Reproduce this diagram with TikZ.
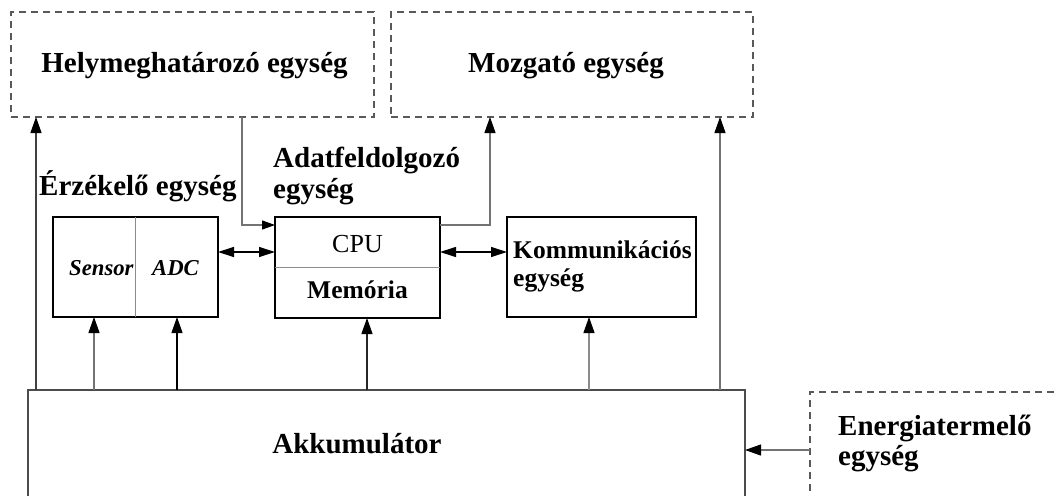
\documentclass[tikz,border=0pt]{standalone}
\usepackage{fontspec}
\setmainfont{Liberation Serif}
\usetikzlibrary{arrows.meta}
\begin{document}
\begin{tikzpicture}[x=1pt,y=-1pt,
  solidbox/.style={draw=black,line width=1.3pt,rectangle,inner sep=0pt,outer sep=0pt,anchor=north west},
  akkubox/.style={draw=black!70,line width=1.3pt,rectangle,inner sep=0pt,outer sep=0pt,anchor=north west},
  dashbox/.style={draw=black!65,line width=1.1pt,dash pattern=on 7pt off 5pt,rectangle,inner sep=0pt,outer sep=0pt,anchor=north west},
  big/.style={font=\fontsize{29}{32}\selectfont\bfseries,inner sep=0pt,anchor=base west},
  mid/.style={font=\fontsize{25.5}{28}\selectfont\bfseries,inner sep=0pt,anchor=base west},
  ital/.style={font=\fontsize{22.7}{25}\selectfont\bfseries\itshape,inner sep=0pt,anchor=base west},
  gline/.style={draw=black!55,line width=1.1pt},
  bline/.style={draw=black,line width=1.2pt},
  divline/.style={draw=black!45,line width=0.9pt},
  arr/.style={-{Triangle[length=16pt,width=11pt,color=black]}},
  smallarr/.style={-{Triangle[length=13pt,width=9pt,color=black]}},
  dbl/.style={{Triangle[length=16pt,width=10pt,color=black]}-{Triangle[length=16pt,width=10pt,color=black]}},
]
\useasboundingbox (0,0) rectangle (1056,495);
\clip (0,0) rectangle (1056,495);

% outer (external) units, dashed
\node[dashbox,minimum width=363pt,minimum height=105pt] (hely) at (11,12) {};
\node[big,anchor=base] (helyt) at (194.5,72) {Helymeghatározó egység};
\node[dashbox,minimum width=362pt,minimum height=105pt] (mozg) at (391,12) {};
\node[big,anchor=base] (mozgt) at (566,72) {Mozgató egység};
\node[dashbox,minimum width=300pt,minimum height=160pt] (ener) at (810,392) {};
\node[big] (ener1) at (838,435) {Energiatermelő};
\node[big] (ener2) at (838,465) {egység};

% group titles
\node[big] (erz) at (39,195) {Érzékelő egység};
\node[big] (adat1) at (273,167) {Adatfeldolgozó};
\node[big] (adat2) at (273,198) {egység};

% sensor unit
\node[solidbox,minimum width=165pt,minimum height=100pt] (sa) at (53,217) {};
\coordinate (sadiv) at (135,0);
\draw[divline] (sa.north -| sadiv) -- (sa.south -| sadiv);
\node[ital] (sens) at (69,275) {Sensor};
\node[ital] (adc) at (152,275) {ADC};

% processing unit
\node[solidbox,minimum width=165pt,minimum height=101pt] (cpu) at (275,217) {};
\draw[divline] (cpu.west) -- (cpu.east);
\node[mid,anchor=base,font=\fontsize{26}{28}\selectfont] (cput) at (357.5,252) {CPU};
\node[mid,anchor=base] (mem) at (357.5,298) {Memória};

% communication unit
\node[solidbox,minimum width=189pt,minimum height=100pt] (komm) at (507,217) {};
\node[mid] (komm1) at (513,258) {Kommunikációs};
\node[mid] (komm2) at (513,286) {egység};

% battery
\node[akkubox,minimum width=717pt,minimum height=160pt] (akku) at (28,390) {};
\node[big,anchor=base] (akkut) at (357,453) {Akkumulátor};

% connectors
\coordinate (c36) at (36,0);
\coordinate (h2c) at (242,225);
\coordinate (c2m) at (490,225);
\coordinate (c720) at (720,0);
\coordinate (bus) at (0,252);
\coordinate (p1) at (94,0);
\coordinate (p2) at (177,0);
\coordinate (p3) at (367,0);
\coordinate (p4) at (589,0);
\coordinate (en) at (0,450);

\draw[gline,draw=black!75,arr] (akku.north -| c36) -- (hely.south -| c36);
\draw[gline,smallarr] (hely.south -| h2c) |- (cpu.west |- h2c);
\draw[gline,arr] (cpu.east |- c2m) -| (mozg.south -| c2m);
\draw[gline,arr] (akku.north -| c720) -- (mozg.south -| c720);

\draw[bline,dbl] (sa.east |- bus) -- (cpu.west |- bus);
\draw[bline,dbl] (cpu.east |- bus) -- (komm.west |- bus);

\draw[gline,arr] (akku.north -| p1) -- (sa.south -| p1);
\draw[bline,arr] (akku.north -| p2) -- (sa.south -| p2);
\draw[bline,draw=black!85,arr] (akku.north -| p3) -- (cpu.south -| p3);
\draw[gline,draw=black!45,arr] (akku.north -| p4) -- (komm.south -| p4);

\draw[gline,arr] (ener.west |- en) -- (akku.east |- en);
\end{tikzpicture}
\end{document}
